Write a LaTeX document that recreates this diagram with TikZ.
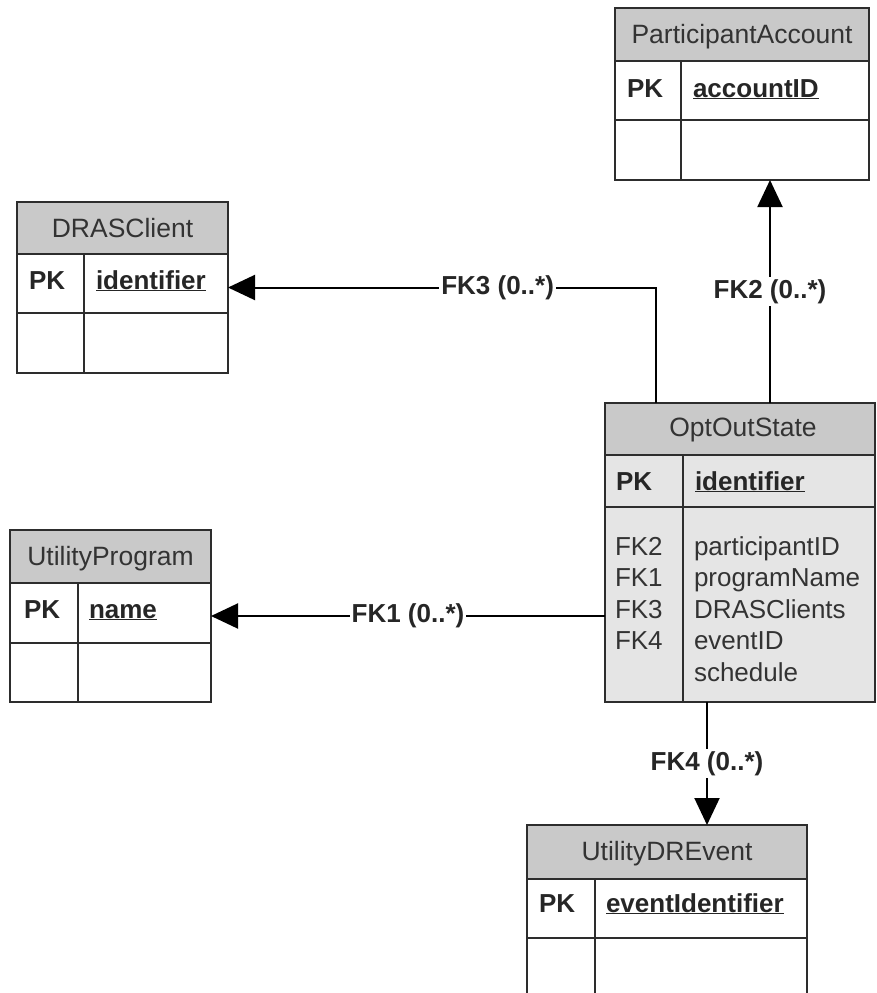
\documentclass[tikz,border=0pt]{standalone}
\usepackage{fontspec}
\setmainfont{Liberation Sans}
\usetikzlibrary{arrows.meta}
\definecolor{hdrgray}{RGB}{201,201,201}
\definecolor{bodygray}{RGB}{229,229,229}
\definecolor{tblline}{RGB}{45,45,45}
\tikzset{
    tbl/.style={draw=tblline, line width=2pt, inner sep=0pt, outer sep=0pt},
    title/.style={anchor=base, inner sep=0pt, text=black!80, font=\fontsize{26.5}{31}\selectfont},
    key/.style={anchor=base west, inner sep=0pt, text=black!85, font=\fontsize{26}{31}\selectfont\bfseries},
    field/.style={anchor=base west, inner sep=0pt, text=black!80, font=\fontsize{26}{31}\selectfont},
    fk/.style={draw=black, line width=2pt, -{Triangle[length=27pt,width=25pt]}},
    fklabel/.style={fill=white, inner sep=2pt, text=black!85, font=\fontsize{26}{31}\selectfont\bfseries}
}
\begin{document}
\begin{tikzpicture}[x=1pt, y=-1pt, line width=2pt]
    \useasboundingbox (0, 0) rectangle (876, 993);
    \clip (0, 0) rectangle (876, 993);

    % ParticipantAccount
    \node[tbl, fill=white, minimum width=254, minimum height=172] (acct) at (742, 94) {};
        \draw[tblline, fill=hdrgray] (615, 8) rectangle (869, 61);
        \draw[tblline] (615, 120) to (869, 120);
        \draw[tblline] (681, 61) to (681, 180);
    \node[title] (acctT) at (742, 43) {ParticipantAccount};
    \node[key] (acctK) at (626, 97) {PK};
    \node[key] (acctF) at (692, 97) {\underline{accountID}};

    % DRASClient
    \node[tbl, fill=white, minimum width=211, minimum height=171] (dras) at (122.5, 287.5) {};
        \draw[tblline, fill=hdrgray] (17, 202) rectangle (228, 254);
        \draw[tblline] (17, 313) to (228, 313);
        \draw[tblline] (84, 254) to (84, 373);
    \node[title] (drasT) at (122.5, 237) {DRASClient};
    \node[key] (drasK) at (28, 289) {PK};
    \node[key] (drasF) at (95, 289) {\underline{identifier}};

    % UtilityProgram
    \node[tbl, fill=white, minimum width=201, minimum height=172] (prog) at (110.5, 616) {};
        \draw[tblline, fill=hdrgray] (10, 530) rectangle (211, 583);
        \draw[tblline] (10, 643) to (211, 643);
        \draw[tblline] (78, 583) to (78, 702);
    \node[title] (progT) at (110.5, 565) {UtilityProgram};
    \node[key] (progK) at (23, 618) {PK};
    \node[key] (progF) at (88, 618) {\underline{name}};

    % OptOutState
    \node[tbl, fill=bodygray, minimum width=270, minimum height=299] (opt) at (740, 552.5) {};
        \draw[tblline, fill=hdrgray] (605, 403) rectangle (875, 455);
        \draw[tblline] (605, 507) to (875, 507);
        \draw[tblline] (683, 455) to (683, 702);
    \node[title] (optT) at (743, 436) {OptOutState};
    \node[key] (optK) at (615, 490) {PK};
    \node[key] (optF) at (694, 490) {\underline{identifier}};
    \node[field] (optK1) at (614, 555) {FK2};
    \node[field] (optK2) at (614, 586.5) {FK1};
    \node[field] (optK3) at (614, 618) {FK3};
    \node[field] (optK4) at (614, 649.5) {FK4};
    \node[field] (optF1) at (693, 555) {participantID};
    \node[field] (optF2) at (693, 586.5) {programName};
    \node[field] (optF3) at (693, 618) {DRASClients};
    \node[field] (optF4) at (693, 649.5) {eventID};
    \node[field] (optF5) at (693, 681) {schedule};

    % UtilityDREvent
    \node[tbl, fill=white, minimum width=280, minimum height=175] (event) at (667, 912.5) {};
        \draw[tblline, fill=hdrgray] (527, 825) rectangle (807, 879);
        \draw[tblline] (527, 938) to (807, 938);
        \draw[tblline] (595, 879) to (595, 1000);
    \node[title] (eventT) at (667, 860) {UtilityDREvent};
    \node[key] (eventK) at (538, 912) {PK};
    \node[key] (eventF) at (605, 912) {\underline{eventIdentifier}};

    % foreign keys
    \draw[fk] (opt.north -| 770,0) -- node[fklabel] (fk2) {FK2 (0..*)} (acct.south -| 770,0);
    \draw[fk] (opt.north -| 656,0) |- node[fklabel, pos=0.685] (fk3) {FK3 (0..*)} (dras.east);
    \draw[fk] (opt.west |- prog.east) -- node[fklabel] (fk1) {FK1 (0..*)} (prog.east);
    \draw[fk] (opt.south -| 707,0) -- node[fklabel] (fk4) {FK4 (0..*)} (event.north -| 707,0);
\end{tikzpicture}
\end{document}
